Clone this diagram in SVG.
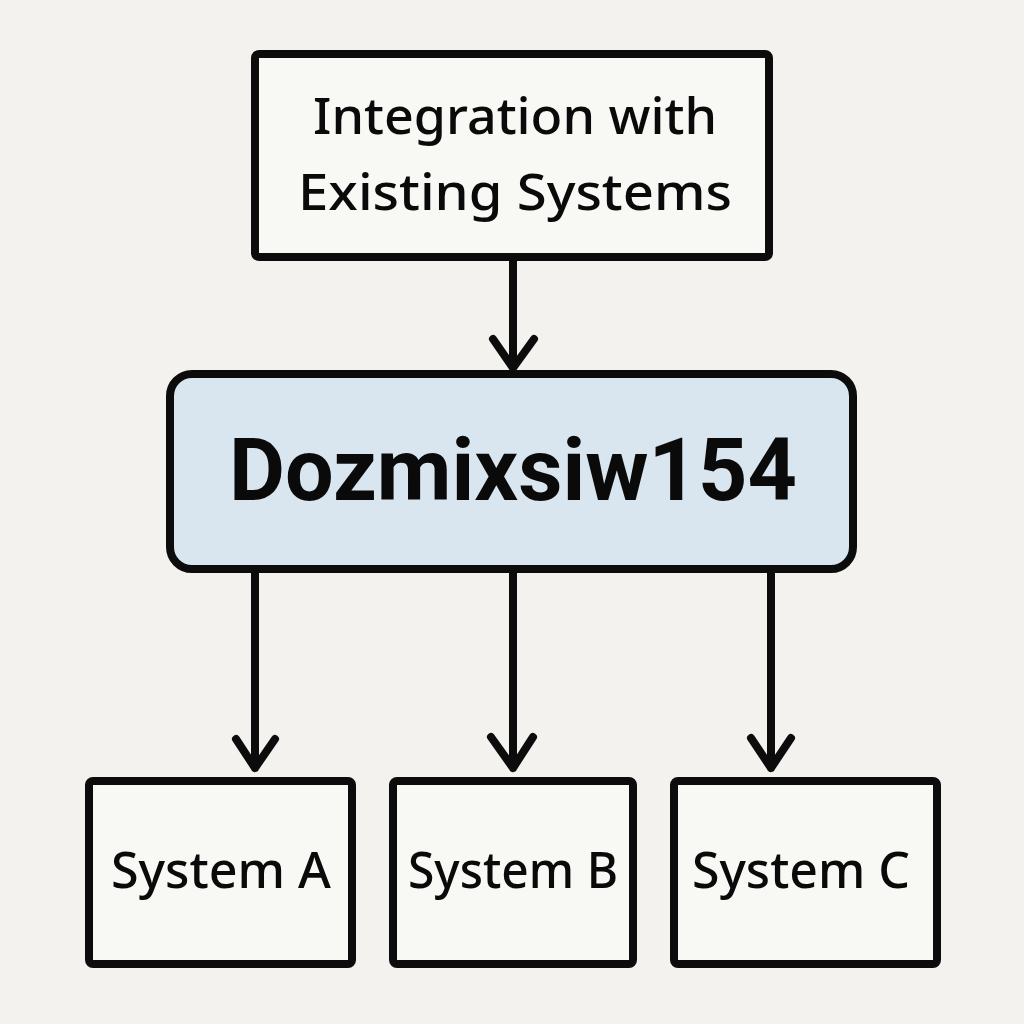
<svg xmlns="http://www.w3.org/2000/svg" width="1024" height="1024" viewBox="0 0 1024 1024">
<style>
.box{fill:#f8f8f5;stroke:#0c0c0c;stroke-width:8;stroke-linejoin:round}
.t{font-family:"Noto Sans","Open Sans",sans-serif;font-weight:500;fill:#0a0a0a;text-anchor:middle}
.c{fill:none;stroke:#0c0c0c;stroke-width:8;stroke-linecap:round;stroke-linejoin:round}
</style>
<rect width="1024" height="1024" fill="#f3f2ef"/>
<g id="connectors">
<path class="c" d="M513 260V368M493 339L513 368L534 339"/>
<path class="c" d="M255 570V768M236 739L255 768L275 739"/>
<path class="c" d="M513 570V768M491 737L513 768L533 737"/>
<path class="c" d="M771 570V768M751 738L771 768L791 738"/>
</g>
<g id="top"><rect class="box" x="255" y="54" width="514" height="203" rx="4"/>
<text class="t" x="515" y="134" font-size="51" textLength="404" lengthAdjust="spacingAndGlyphs">Integration with</text>
<text class="t" x="515" y="210" font-size="51" textLength="434" lengthAdjust="spacingAndGlyphs">Existing Systems</text></g>
<g id="main"><rect x="170" y="374" width="683" height="195" rx="22" fill="#d9e6ef" stroke="#0c0c0c" stroke-width="8"/>
<text x="513" y="500" font-family="Roboto,'Noto Sans',sans-serif" font-weight="700" fill="#0a0a0a" text-anchor="middle" font-size="88" textLength="568" lengthAdjust="spacingAndGlyphs">Dozmixsiw154</text></g>
<g id="a"><rect class="box" x="89" y="781" width="263" height="183" rx="4"/>
<text class="t" x="221" y="888" font-size="50" textLength="220" lengthAdjust="spacingAndGlyphs">System A</text></g>
<g id="b"><rect class="box" x="393" y="781" width="240" height="183" rx="4"/>
<text class="t" x="513" y="888" font-size="50" textLength="210" lengthAdjust="spacingAndGlyphs">System B</text></g>
<g id="c"><rect class="box" x="674" y="781" width="263" height="183" rx="4"/>
<text class="t" x="801" y="888" font-size="50" textLength="218" lengthAdjust="spacingAndGlyphs">System C</text></g>
</svg>
